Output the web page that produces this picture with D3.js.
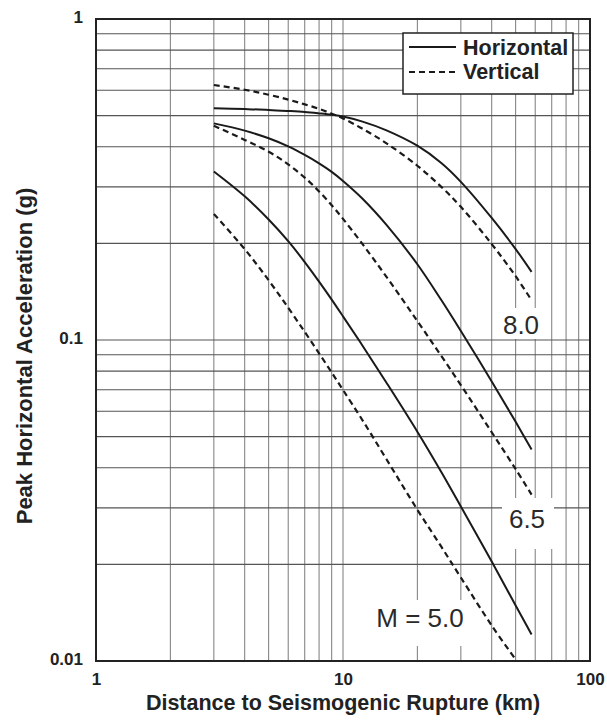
<!DOCTYPE html>
<html><head><meta charset="utf-8">
<script src="https://cdn.jsdelivr.net/npm/d3@7/dist/d3.min.js"></script>
<style>
body{margin:0;background:#fff;}
svg{display:block;}
text{font-family:"Liberation Sans",Arial,sans-serif;font-weight:bold;fill:#222;}
</style>
</head><body>
<svg id="chart" width="607" height="720"></svg>
<script>
// ---- data ----
const distances   = [3,4,5,6,7,8,9,10,12,15,20,25,30,40,50,58];
const distancesV5 = [3,4,5,6,7,8,9,10,12,15,20,25,30,40,50];
const m80Horizontal = [0.527,0.524,0.521,0.517,0.513,0.508,0.503,0.497,0.479,0.450,0.403,0.356,0.311,0.240,0.192,0.163];
const m80Vertical   = [0.623,0.602,0.581,0.561,0.542,0.525,0.507,0.490,0.455,0.410,0.349,0.300,0.260,0.199,0.158,0.133];
const m65Horizontal = [0.473,0.449,0.425,0.401,0.377,0.355,0.334,0.313,0.2755,0.2284,0.1722,0.1332,0.1067,0.0743,0.0556,0.0456];
const m65Vertical   = [0.465,0.420,0.386,0.3525,0.3205,0.2903,0.263,0.2385,0.1988,0.1573,0.1146,0.0892,0.0724,0.0516,0.0396,0.033];
const m50Horizontal = [0.335,0.2803,0.2374,0.2032,0.1749,0.152,0.1336,0.1185,0.096,0.0736,0.0518,0.0388,0.0303,0.0204,0.0149,0.0121];
const m50Vertical   = [0.247,0.1919,0.1535,0.126,0.106,0.0909,0.0792,0.0699,0.0562,0.0425,0.0296,0.0227,0.0182,0.0129,0.0101];
const xTickLabels = [1,10,100];
const yTickLabels = [0.01,0.1,1];
const magnitudeLabels = ["8.0","6.5","M = 5.0"];
const legendLabels = ["Horizontal","Vertical"];
const xTitle = "Distance to Seismogenic Rupture (km)";
const yTitle = "Peak Horizontal Acceleration (g)";

// ---- layout ----
const L = 96, R = 590, T = 19, B = 661;
const svg = d3.select("#chart");
const x = d3.scaleLog().domain([1,100]).range([L,R]);
const y = d3.scaleLog().domain([0.01,1]).range([B,T]);

const xGrid = [], yGrid = [];
[1,10].forEach(d => { for (let k=1;k<=9;k++) xGrid.push(d*k); });
xGrid.push(100);
[0.01,0.1].forEach(d => { for (let k=1;k<=9;k++) yGrid.push(+(d*k).toFixed(3)); });
yGrid.push(1);

const g = svg.append("g");
g.selectAll(".vg").data(xGrid).join("line")
  .attr("x1", d=>x(d)).attr("x2", d=>x(d)).attr("y1", T).attr("y2", B)
  .attr("stroke", "#7a7a7a").attr("stroke-width", 1);
g.selectAll(".hg").data(yGrid).join("line")
  .attr("y1", d=>y(d)).attr("y2", d=>y(d)).attr("x1", L).attr("x2", R)
  .attr("stroke", "#555").attr("stroke-width", 1.1);

// white label backgrounds
const labelBoxes = [
  {t: magnitudeLabels[0], bx:497, by:308, bw:48, bh:31, tx:521, ty:334},
  {t: magnitudeLabels[1], bx:502, by:498, bw:52, bh:51, tx:527, ty:528},
  {t: magnitudeLabels[2], bx:369, by:600, bw:102, bh:46, tx:420, ty:627}
];
svg.selectAll(".lb").data(labelBoxes).join("rect")
  .attr("x", d=>d.bx).attr("y", d=>d.by).attr("width", d=>d.bw).attr("height", d=>d.bh)
  .attr("fill", "#fff");

// frame
svg.append("rect").attr("x", L).attr("y", T).attr("width", R-L).attr("height", B-T)
  .attr("fill", "none").attr("stroke", "#222").attr("stroke-width", 2);

// curves
const line = d3.line().x(d=>x(d[0])).y(d=>y(d[1])).curve(d3.curveCatmullRom.alpha(0.5));
const series = [
  {d: distances, v: m80Horizontal, dash: null},
  {d: distances, v: m80Vertical, dash: "6,4"},
  {d: distances, v: m65Horizontal, dash: null},
  {d: distances, v: m65Vertical, dash: "6,4"},
  {d: distances, v: m50Horizontal, dash: null},
  {d: distancesV5, v: m50Vertical, dash: "6,4"}
];
series.forEach(s => {
  svg.append("path").datum(s.d.map((dd,i)=>[dd, s.v[i]]))
    .attr("d", line).attr("fill", "none").attr("stroke", "#1a1a1a")
    .attr("stroke-width", s.dash ? 2.2 : 2)
    .attr("stroke-dasharray", s.dash);
});

// magnitude labels
svg.selectAll(".ml").data(labelBoxes).join("text")
  .attr("x", d=>d.tx).attr("y", d=>d.ty).attr("text-anchor", "middle")
  .style("font-size", "26px").style("font-weight", "normal").style("fill", "#2a2a2a")
  .text(d=>d.t);

// axes
const xa = svg.append("g").attr("transform", `translate(0,${B})`)
  .call(d3.axisBottom(x).tickValues(xTickLabels).tickSize(0).tickFormat(d=>String(d)));
xa.select(".domain").remove();
xa.selectAll("text").attr("y", 24).attr("dy", 0).style("font-size", "17px").style("fill","#222");

const ya = svg.append("g").attr("transform", `translate(${L},0)`)
  .call(d3.axisLeft(y).tickValues(yTickLabels).tickSize(0).tickFormat(d=>String(d)));
ya.select(".domain").remove();
ya.selectAll("text").attr("x", -13).attr("y", 3).attr("dy", 0).style("font-size", "17px").style("fill","#222");

// titles
svg.append("text").attr("x", (L+R)/2).attr("y", 710).attr("text-anchor", "middle")
  .style("font-size", "21.5px").text(xTitle);
svg.append("text").attr("transform", "translate(32,356) rotate(-90)").attr("text-anchor", "middle")
  .style("font-size", "22px").text(yTitle);

// legend
const lg = svg.append("g");
lg.append("rect").attr("x", 403).attr("y", 33).attr("width", 170).attr("height", 61)
  .attr("fill", "#fff").attr("stroke", "#222").attr("stroke-width", 1.5);
const legendItems = [{t: legendLabels[0], dash: null, ly: 47, ty: 55},
                     {t: legendLabels[1], dash: "6,4", ly: 72, ty: 79}];
legendItems.forEach(it => {
  lg.append("line").attr("x1", 409).attr("x2", 456).attr("y1", it.ly).attr("y2", it.ly)
    .attr("stroke", "#1a1a1a").attr("stroke-width", it.dash ? 2.2 : 2).attr("stroke-dasharray", it.dash);
  lg.append("text").attr("x", 463).attr("y", it.ty).style("font-size", "21.5px").text(it.t);
});
</script>
</body></html>
